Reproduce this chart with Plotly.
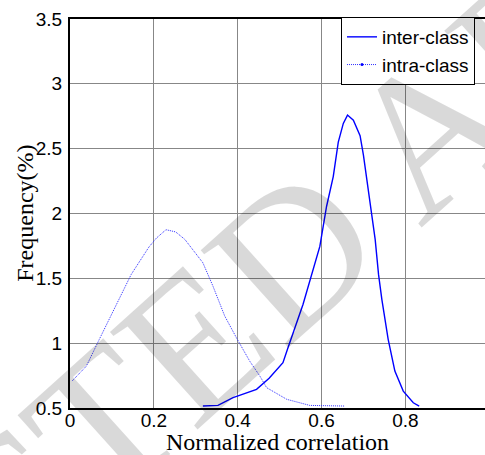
import plotly.graph_objects as go

inter_x = [0.317, 0.353, 0.389, 0.429, 0.445, 0.475, 0.508, 0.520, 0.556, 0.596, 0.612, 0.628,
           0.640, 0.652, 0.662, 0.676, 0.692, 0.700, 0.716, 0.728, 0.736, 0.744, 0.759, 0.767,
           0.775, 0.795, 0.819, 0.833]
inter_y = [0.515, 0.52, 0.58, 0.63, 0.644, 0.73, 0.85, 0.965, 1.30, 1.746, 2.054, 2.285,
           2.55, 2.695, 2.759, 2.72, 2.60, 2.45, 2.07, 1.80, 1.53, 1.336, 1.03, 0.90,
           0.785, 0.63, 0.54, 0.515]

intra_x = [0.005, 0.039, 0.070, 0.110, 0.146, 0.188, 0.206, 0.229, 0.252, 0.274, 0.290, 0.317,
           0.341, 0.369, 0.399, 0.429, 0.453, 0.469, 0.517, 0.572, 0.656]
intra_y = [0.708, 0.823, 1.03, 1.30, 1.53, 1.74, 1.81, 1.875, 1.858, 1.80, 1.73, 1.62,
           1.44, 1.21, 1.03, 0.86, 0.746, 0.657, 0.567, 0.52, 0.515]

x_ticks = [0, 0.2, 0.4, 0.6, 0.8]
x_labels = ["0", "0.2", "0.4", "0.6", "0.8"]
y_ticks = [0.5, 1, 1.5, 2, 2.5, 3, 3.5]
y_labels = ["0.5", "1", "1.5", "2", "2.5", "3", "3.5"]

intra_line = dict(color="#3030ff", width=1, dash="1px,1px")

fig = go.Figure()
fig.add_trace(go.Scatter(x=inter_x, y=inter_y, mode="lines", name="inter-class",
                         line=dict(color="#0000ff", width=1.4)))
fig.add_trace(go.Scatter(x=intra_x, y=intra_y, mode="lines", name="intra-class",
                         line=intra_line, showlegend=False, legendgroup="intra"))
# legend entry for intra-class (line with dot marker), no marks drawn
fig.add_trace(go.Scatter(x=[None], y=[None], mode="lines+markers", name="intra-class",
                         line=intra_line, marker=dict(size=3, color="#0000ff"),
                         legendgroup="intra"))

fig.add_annotation(text="RETRACTED ARTICLE", xref="paper", yref="paper",
                   x=(232 - 70) / 415, y=1 - (308 - 19) / 389.5, showarrow=False,
                   textangle=-42, xanchor="center", yanchor="middle",
                   font=dict(family="Liberation Serif", size=200, color="rgba(0,0,0,0.15)"))

title_font = dict(family="Liberation Serif, Times New Roman", size=24, color="black")
fig.add_annotation(text="Frequency(%)", xref="paper", yref="paper",
                   x=(25 - 70) / 415, y=1 - (214 - 19) / 389.5, showarrow=False,
                   textangle=-90, xanchor="center", yanchor="middle", font=title_font)

axis_font = dict(family="Liberation Sans, Arial", size=19, color="black")
fig.update_layout(
    width=485, height=455,
    margin=dict(l=70, r=0, t=19, b=47),
    paper_bgcolor="white", plot_bgcolor="white",
    showlegend=True,
    legend=dict(x=(475 - 70) / 415, y=1 + 2 / 389.5, xanchor="right", yanchor="top",
                bgcolor="white", bordercolor="black", borderwidth=1,
                font=dict(family="Liberation Sans, Arial", size=19, color="black"),
                itemwidth=30, tracegroupgap=0),
    xaxis=dict(range=[0, 0.99], tickvals=x_ticks, ticktext=x_labels, tickfont=axis_font,
               showgrid=True, gridcolor="rgb(135,135,135)", gridwidth=1,
               showline=True, linecolor="black", linewidth=2, mirror=True,
               zeroline=False, ticks="", automargin=False, ticklabelstandoff=-6,
               title=dict(text="Normalized correlation", standoff=0, font=title_font)),
    yaxis=dict(range=[0.5, 3.5], tickvals=y_ticks, ticktext=y_labels, tickfont=axis_font,
               showgrid=True, gridcolor="rgb(135,135,135)", gridwidth=1,
               showline=True, linecolor="black", linewidth=2,
               zeroline=False, ticks="", automargin=False, ticklabelstandoff=2),
)

fig.write_html("out.html")
